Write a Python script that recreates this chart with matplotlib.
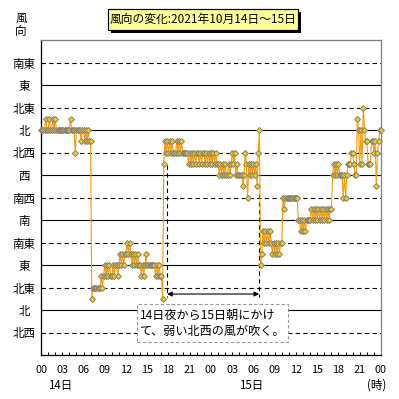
import matplotlib
matplotlib.use("Agg")
import matplotlib.pyplot as plt
import matplotlib.transforms as mtransforms
from matplotlib.patches import Rectangle
import numpy as np

plt.rcParams['font.family'] = ['Noto Sans CJK JP', 'DejaVu Sans']

# ---------------- data ----------------
title = "風向の変化:2021年10月14日～15日"
axis_title = "風\n向"
# y positions 1..13 (bottom to top)
dir_labels = ["北西", "北", "北東", "東", "南東", "南", "南西", "西", "北西", "北", "北東", "東", "南東"]
cardinal = ["北", "東", "南", "西"]
xtick_hours = list(range(0, 49, 3))
xtick_labels = ["00", "03", "06", "09", "12", "15", "18", "21",
                "00", "03", "06", "09", "12", "15", "18", "21", "00"]
day_labels = ["14日", "15日"]
day_label_hours = [2.75, 29.7]
unit_label = "(時)"
note_lines = ["14日夜から15日朝にかけ", "て、弱い北西の風が吹く。"]
note_span_hours = [17.8, 30.8]

# 10-minute wind direction (plot position), 14th 00:00 - 23:50
wind_14 = [
    10, 10, 10, 10, 10.5, 10,
    10, 10.5, 10, 10, 10.5, 10,
    10.5, 10, 10, 10, 10, 10,
    10, 10, 10, 10, 10, 10,
    10, 10.5, 10, 10, 10, 9,
    10, 10, 10, 10, 9.5, 10,
    10, 9.5, 10, 9.5, 10, 9.5,
    9.5, 2.5, 3, 3, 3, 3,
    3, 3, 3, 3.5, 3, 3.5,
    4, 3.5, 4, 3.5, 4, 3.5,
    3.5, 4, 3.5, 4, 4, 3.5,
    4, 4.5, 4, 4.5, 4, 4.5,
    4.5, 5, 4.5, 5, 4.5, 4,
    4.5, 4, 4.5, 4, 4.5, 4,
    4, 3.5, 4, 3.5, 4, 4.5,
    4, 4, 4, 4, 4, 4,
    4, 3.5, 4, 3.5, 4, 3.5,
    3.5, 2.5, 8.5, 9.5, 9, 9.5,
    9, 9.5, 9, 9.5, 9, 9,
    9, 9.5, 9, 9.5, 9, 9.5,
    9, 9, 9, 9, 9, 8.5,
    9, 8.5, 9, 8.5, 9, 8.5,
    9, 9, 8.5, 9, 8.5, 9,
    9, 8.5, 9, 8.5, 9, 8.5,
]
# 15th 00:00 - 16th 00:00
wind_15 = [
    9, 8.5, 9, 8.5, 9, 8.5,
    8.5, 8, 8.5, 8, 8.5, 8,
    8.5, 8, 8, 8.5, 8, 8.5,
    9, 8.5, 9, 8, 8.5, 8,
    8, 8, 8, 7.5, 8, 9,
    8.5, 7, 8.5, 8, 8.5, 8,
    8.5, 8, 8.5, 7.5, 9, 10,
    4, 4.5, 5.5, 5, 5.5, 5,
    5.5, 5, 5.5, 5, 4.5, 5,
    4.5, 5, 4.5, 5, 4.5, 5,
    5, 7, 6.5, 7, 7, 7,
    7, 7, 7, 7, 7, 7,
    7, 7, 6, 6, 5.5, 6,
    5.5, 6, 5.5, 6, 6, 6,
    6, 6.5, 6, 6.5, 6, 6.5,
    6, 6.5, 6, 6.5, 6, 6.5,
    6, 6.5, 6, 6.5, 6, 6.5,
    6.5, 8, 8.5, 8, 8.5, 8,
    8.5, 8, 8, 8, 7, 8,
    7, 8, 8.5, 8.5, 8.5, 9,
    9, 8.5, 8, 8, 10.5, 10,
    8.5, 10, 8.5, 11, 10, 9.5,
    9.5, 8.5, 8.5, 8.5, 9.5, 9.5,
    9, 9.5, 7.5, 9, 9.5, 10,
    10,
]

values = np.array(wind_14 + wind_15, dtype=float)
hours = np.arange(len(values)) / 6.0

# ---------------- figure ----------------
W = H = 399
PX = 72.0 / 100.0  # points per pixel
fig = plt.figure(figsize=(W / 100, H / 100), dpi=100)
fig.patch.set_facecolor("white")

ax = fig.add_axes([41 / W, 1 - 355 / H, 340 / W, 315 / H])
ax.set_xlim(0, 48)
ax.set_ylim(0, 14)

# gridlines
for i, lab in enumerate(dir_labels):
    y = i + 1
    ls = "-" if lab in cardinal else (0, (4, 3))
    ax.axhline(y, color="black", lw=1.1 * PX, ls=ls, zorder=1)

# annotation dashed verticals and arrow
ax.plot([note_span_hours[0]] * 2, [8.44, 2.6], color="black", lw=1.1 * PX,
        ls=(0, (4, 3)), zorder=2)
ax.plot([note_span_hours[1]] * 2, [7.16, 2.6], color="black", lw=1.1 * PX,
        ls=(0, (4, 3)), zorder=2)
ax.annotate("", xy=(note_span_hours[0], 2.71), xytext=(note_span_hours[1], 2.71),
            arrowprops=dict(arrowstyle="<|-|>", color="black", lw=1.1 * PX,
                            mutation_scale=7, shrinkA=0, shrinkB=0),
            zorder=3)

# data
ax.plot(hours, values, color="#FF9900", lw=1.1 * PX, zorder=4, clip_on=False)
ax.plot(hours, values, ls="none", marker="D", markersize=3.0,
        markerfacecolor="#FFCC00", markeredgecolor="#808080",
        markeredgewidth=0.7, zorder=5, clip_on=False)

# spines
for s in ["left", "bottom"]:
    ax.spines[s].set_color("black")
    ax.spines[s].set_linewidth(1.3 * PX)
for s in ["top", "right"]:
    ax.spines[s].set_color("#808080")
    ax.spines[s].set_linewidth(1.3 * PX)

# y ticks
ax.set_yticks(range(1, 14))
ax.set_yticklabels(dir_labels, fontsize=8.3)
ax.tick_params(axis="y", length=0, pad=17 * PX)
for lbl in ax.get_yticklabels():
    lbl.set_horizontalalignment("center")

# x ticks
ax.set_xticks(xtick_hours)
ax.set_xticklabels(xtick_labels, fontsize=7.8)
ax.set_xticks(range(0, 49), minor=True)
ax.tick_params(axis="x", which="both", direction="in", length=3 * PX,
               width=1 * PX, color="black", pad=7.5)

blend = mtransforms.blended_transform_factory(ax.transData, fig.transFigure)
for lab, h in zip(day_labels, day_label_hours):
    ax.text(h, 1 - 386 / H, lab, transform=blend, ha="center", va="center",
            fontsize=8.3)
ax.text(47.4, 1 - 385 / H, unit_label, transform=blend, ha="center",
        va="center", fontsize=8.3)

# axis title
fig.text(21 / W, 1 - 24.5 / H, axis_title, ha="center", va="center",
         fontsize=8.3, linespacing=1.0)

# title box with shadow
bx0, by0, bx1, by1 = 108, 9, 298, 29.5
fig.add_artist(Rectangle(((bx0 + 3) / W, 1 - (by1 + 3) / H),
                         (bx1 - bx0) / W, (by1 - by0) / H, transform=fig.transFigure,
                         facecolor="black", edgecolor="none", zorder=5))
fig.add_artist(Rectangle((bx0 / W, 1 - by1 / H), (bx1 - bx0) / W, (by1 - by0) / H,
                         transform=fig.transFigure, facecolor="#FFFF99",
                         edgecolor="black", lw=1.2 * PX, zorder=6))
fig.text((bx0 + bx1) / 2 / W, 1 - (by0 + by1) / 2 / H, title, ha="center",
         va="center", fontsize=8.5, zorder=7)

# note box
nx0, ny0, nx1, ny1 = 137, 304, 288, 342
fig.add_artist(Rectangle((nx0 / W, 1 - ny1 / H), (nx1 - nx0) / W, (ny1 - ny0) / H,
                         transform=fig.transFigure, facecolor="white",
                         edgecolor="#999999", lw=1.1 * PX, ls=(0, (3, 2)),
                         zorder=6))
fig.text(140 / W, 1 - 315 / H, note_lines[0], ha="left", va="center",
         fontsize=8.7, zorder=7)
fig.text(140 / W, 1 - 331 / H, note_lines[1], ha="left", va="center",
         fontsize=8.7, zorder=7)

fig.savefig("out.png", dpi=100)
